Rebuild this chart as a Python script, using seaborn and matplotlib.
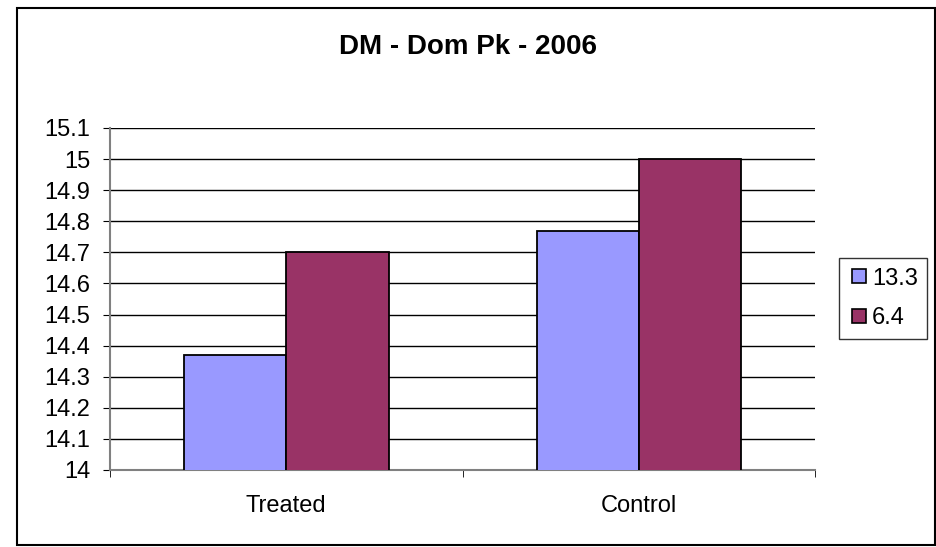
import pandas as pd
import seaborn as sns
import matplotlib.pyplot as plt
from matplotlib.patches import Rectangle
from matplotlib.lines import Line2D

groups = ['Treated', 'Control']
series = ['13.3', '6.4']
vals_133 = [14.37, 14.77]
vals_64 = [14.70, 15.00]
yticks = [14.0, 14.1, 14.2, 14.3, 14.4, 14.5, 14.6, 14.7, 14.8, 14.9, 15.0, 15.1]
colors = ['#9999FF', '#993366']

df = pd.DataFrame({
    'group': groups * 2,
    'series': [series[0]] * 2 + [series[1]] * 2,
    'value': vals_133 + vals_64,
})

sns.set_style('white', {'text.color': 'black', 'xtick.color': 'black', 'ytick.color': 'black'})
plt.rcParams['font.family'] = ['Liberation Sans', 'DejaVu Sans']

fig = plt.figure(figsize=(9.37, 5.47), dpi=100)
ax = fig.add_axes([0.1174, 0.1408, 0.7525, 0.6252])

sns.barplot(data=df, x='group', y='value', hue='series', palette=colors,
            saturation=1, width=0.58, edgecolor='black', linewidth=1.3, ax=ax,
            legend=False, zorder=3)

ax.set_ylim(14.0, 15.1)
ax.set_yticks(yticks)
ax.set_yticklabels([f'{t:g}' for t in yticks], fontsize=17, color='black')
ax.set_xlim(-0.5, 1.5)
ax.set_xticks([0, 1])
ax.set_xticklabels(groups, fontsize=17, color='black')
ax.set_xticks([-0.5, 0.5, 1.5], minor=True)
ax.tick_params(axis='x', which='major', length=0, pad=18)
ax.tick_params(axis='x', which='minor', length=5, color='black', direction='out', bottom=True)
ax.tick_params(axis='y', length=5, color='black', direction='out', left=True, pad=9)
ax.yaxis.grid(True, color='black', linewidth=1, zorder=0)
ax.set_axisbelow(True)
ax.set_xlabel('')
ax.set_ylabel('')
for side in ['top', 'right']:
    ax.spines[side].set_visible(False)
for side in ['left', 'bottom']:
    ax.spines[side].set_color('#808080')
    ax.spines[side].set_linewidth(1.5)

fig.text(0.5, 0.914, 'DM - Dom Pk - 2006', ha='center', va='center',
         fontsize=20, fontweight='bold', color='black')

handles = [Line2D([0], [0], marker='s', linestyle='none', markersize=10,
                  markerfacecolor=c, markeredgecolor='black', markeredgewidth=1.2)
           for c in colors]
leg = fig.legend(handles, series, loc='center left', bbox_to_anchor=(0.8954, 0.4543),
                 fontsize=17, frameon=True, fancybox=False, edgecolor='black',
                 handletextpad=0.1, labelspacing=0.75, borderpad=0.4, handlelength=0.9,
                 borderaxespad=0)
for t in leg.get_texts():
    t.set_color('black')

fig.patches.append(Rectangle((0.0181, 0.0037), 0.9797, 0.9817, transform=fig.transFigure,
                             fill=False, edgecolor='black', linewidth=1.5))

fig.savefig('out.png', dpi=100)
